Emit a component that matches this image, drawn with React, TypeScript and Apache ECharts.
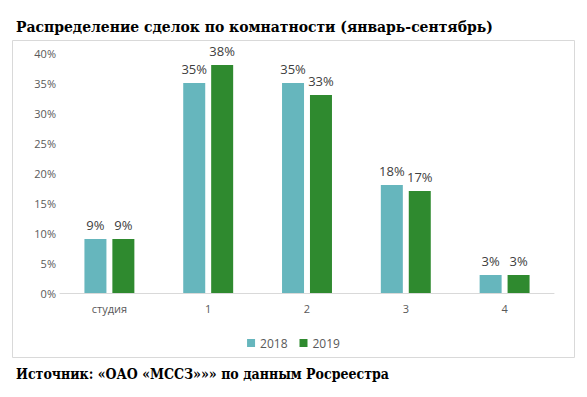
import React, { useEffect, useRef } from "react";
import * as echarts from "echarts";

const categories = ["студия", "1", "2", "3", "4"];
const values2018 = [9, 35, 35, 18, 3];
const values2019 = [9, 38, 33, 17, 3];
const seriesNames = ["2018", "2019"];
const titleText = "Распределение сделок по комнатности (январь-сентябрь)";
const sourceText = "Источник: «ОАО «МССЗ»»» по данным Росреестра";

export default function App() {
  const ref = useRef<HTMLDivElement>(null);
  useEffect(() => {
    document.body.style.margin = "0";
    const chart = echarts.init(ref.current!, null, { renderer: "svg" });
    const labelFont = { color: "#404040", fontSize: 13, fontFamily: "Open Sans" };
    const serif = "DejaVu Serif Condensed";
    chart.setOption({
      animation: false,
      backgroundColor: "#ffffff",
      title: [
        {
          text: titleText,
          left: 11,
          top: 13,
          textStyle: { fontFamily: serif, fontWeight: "bold", fontSize: 15.5, color: "#000" },
        },
        {
          text: sourceText,
          left: 11,
          top: 362,
          textStyle: { fontFamily: serif, fontWeight: "bold", fontSize: 14, color: "#000" },
        },
      ],
      graphic: [
        {
          type: "rect",
          shape: { x: 12.5, y: 40.5, width: 562, height: 317 },
          style: { fill: "none", stroke: "#d9d9d9", lineWidth: 1 },
          silent: true,
        },
      ],
      legend: {
        data: seriesNames,
        top: 332,
        left: "center",
        itemWidth: 8,
        itemHeight: 8,
        itemGap: 12,
        icon: "rect",
        textStyle: { color: "#595959", fontSize: 12, fontFamily: "Open Sans" },
      },
      grid: { left: 60, top: 53, width: 494, height: 240, containLabel: false },
      xAxis: {
        type: "category",
        data: categories,
        axisLine: { lineStyle: { color: "#d9d9d9" } },
        axisTick: { show: false },
        axisLabel: { color: "#595959", fontSize: 11, fontFamily: "Open Sans", margin: 10 },
      },
      yAxis: {
        type: "value",
        min: 0,
        max: 40,
        interval: 5,
        splitLine: { show: false },
        axisLine: { show: false },
        axisTick: { show: false },
        axisLabel: { color: "#595959", fontSize: 11, fontFamily: "Open Sans", formatter: "{value}%", margin: 4 },
      },
      series: [
        {
          name: seriesNames[0],
          type: "bar",
          data: values2018,
          barWidth: 22,
          barGap: "27%",
          itemStyle: { color: "#66b6bd" },
          label: { show: true, position: "top", formatter: "{c}%", distance: 8, ...labelFont },
        },
        {
          name: seriesNames[1],
          type: "bar",
          data: values2019,
          barWidth: 22,
          itemStyle: { color: "#2f8a2f" },
          label: { show: true, position: "top", formatter: "{c}%", distance: 8, ...labelFont },
        },
      ],
    });
    return () => chart.dispose();
  }, []);
  return <div ref={ref} style={{ width: 587, height: 397 }} />;
}
